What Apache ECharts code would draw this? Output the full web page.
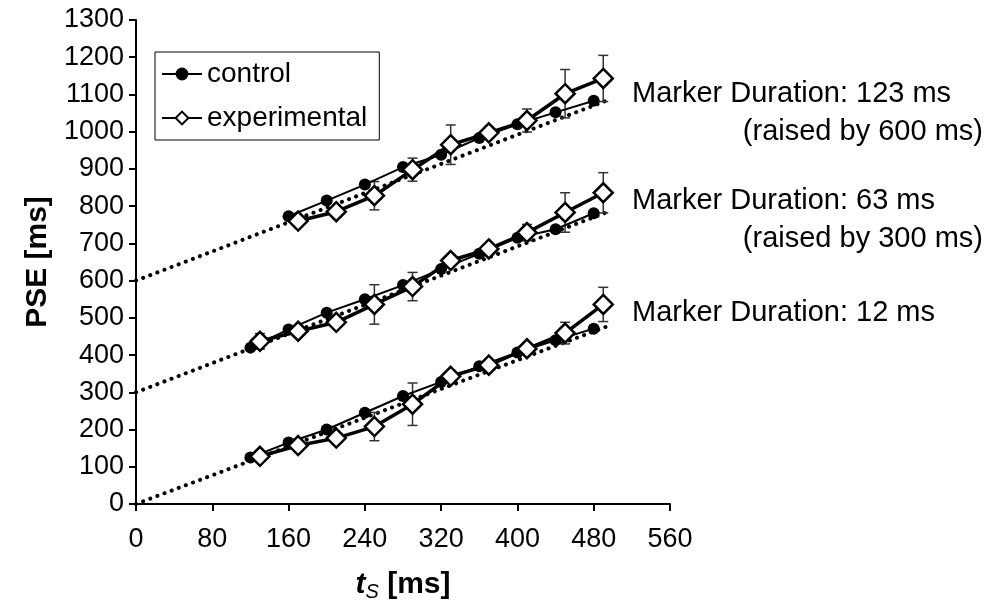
<!DOCTYPE html>
<html>
<head>
<meta charset="utf-8">
<script src="https://cdn.jsdelivr.net/npm/echarts@6/dist/echarts.min.js"></script>
<style>html,body{margin:0;padding:0;background:#fff}#c{width:992px;height:607px}</style>
</head>
<body>
<div id="c"></div>
<script>
// x positions (t_S in ms)
const ctrlX = [120, 160, 200, 240, 280, 320, 360, 400, 440, 480];
const expX = [130, 170, 210, 250, 290, 330, 370, 410, 450, 490];
const ctrlX123 = [160, 200, 240, 280, 320, 360, 400, 440, 480];
const expX123 = [170, 210, 250, 290, 330, 370, 410, 450, 490];

// Marker Duration 12 ms
const ctrl12 = [125, 165, 200, 245, 290, 328, 370, 407, 440, 471];
const exp12 = [128, 157, 177, 208, 268, 343, 373, 417, 459, 536];
const err12 = [8, 6, 6, 38, 57, 10, 6, 6, 29, 46];
// Marker Duration 63 ms (raised by 300 ms)
const ctrl63 = [420, 469, 514, 550, 588, 631, 672, 715, 738, 781];
const exp63 = [437, 464, 488, 536, 584, 654, 685, 729, 783, 836];
const err63 = [21, 6, 6, 53, 38, 6, 6, 22, 53, 54];
// Marker Duration 123 ms (raised by 600 ms)
const ctrl123 = [773, 815, 858, 905, 938, 983, 1020, 1052, 1083];
const exp123 = [760, 785, 828, 898, 965, 997, 1030, 1102, 1143];
const err123 = [6, 6, 38, 31, 53, 6, 31, 65, 62];

// dotted reference lines (endpoints)
const refLow = [[0, 0], [495, 478]];
const refMid = [[0, 300], [495, 785]];
const refTop = [[0, 600], [495, 1085]];

// tick labels
const xTicks = [0, 80, 160, 240, 320, 400, 480, 560];
const yTicks = [0, 100, 200, 300, 400, 500, 600, 700, 800, 900, 1000, 1100, 1200, 1300];

const FONT = 'Liberation Sans';
const zip = (xs, ys) => xs.map((x, i) => [x, ys[i]]);
const errData = (xs, ys, es) => xs.map((x, i) => [x, ys[i] - es[i], ys[i] + es[i]]);

function ctrlSeries(xs, ys) {
  return {
    name: 'control', type: 'line', data: zip(xs, ys), z: 3,
    symbol: 'circle', symbolSize: 12,
    itemStyle: { color: '#000' },
    lineStyle: { color: '#000', width: 2 }
  };
}
function expSeries(xs, ys) {
  return {
    name: 'experimental', type: 'line', data: zip(xs, ys), z: 4,
    symbol: 'diamond', symbolSize: 19,
    itemStyle: { color: '#fff', borderColor: '#000', borderWidth: 2.5 },
    lineStyle: { color: '#000', width: 3.5 }
  };
}
function refSeries(name, pts) {
  return {
    name: name, type: 'line', data: pts, z: 1, symbol: 'none', silent: true,
    lineStyle: { color: '#000', width: 4, type: [0.1, 7.5], cap: 'round' }
  };
}
function errSeries(xs, ys, es) {
  return {
    name: 'err', type: 'custom', z: 2, data: errData(xs, ys, es),
    renderItem: function (params, api) {
      const x = api.value(0);
      const p1 = api.coord([x, api.value(2)]);
      const p2 = api.coord([x, api.value(1)]);
      const w = 5;
      const st = { stroke: '#333', lineWidth: 1.5 };
      return {
        type: 'group', children: [
          { type: 'line', shape: { x1: p1[0], y1: p1[1], x2: p2[0], y2: p2[1] }, style: st },
          { type: 'line', shape: { x1: p1[0] - w, y1: p1[1], x2: p1[0] + w, y2: p1[1] }, style: st },
          { type: 'line', shape: { x1: p2[0] - w, y1: p2[1], x2: p2[0] + w, y2: p2[1] }, style: st }
        ]
      };
    }
  };
}

const chart = echarts.init(document.getElementById('c'), null, { renderer: 'canvas' });
chart.setOption({
  animation: false,
  backgroundColor: '#fff',
  textStyle: { fontFamily: FONT },
  grid: { left: 136, right: 322, top: 20, bottom: 99, containLabel: false },
  legend: {
    data: ['control', 'experimental'],
    orient: 'vertical', left: 155, top: 52,
    borderColor: '#000', borderWidth: 1, padding: [8, 12, 8, 6],
    itemWidth: 40, itemHeight: 16, itemGap: 16,
    textStyle: { fontFamily: FONT, fontSize: 28, color: '#000' }
  },
  xAxis: {
    type: 'value', min: xTicks[0], max: xTicks[xTicks.length - 1], interval: 80,
    axisLine: { onZero: false, lineStyle: { color: '#000', width: 2 } },
    axisTick: { show: true, inside: false, length: 7, lineStyle: { color: '#000', width: 2 } },
    axisLabel: { color: '#000', fontSize: 27, fontFamily: FONT, margin: 22, formatter: v => String(v) },
    splitLine: { show: false },
    name: '{t|t}{s|S}{r| [ms]}', nameLocation: 'middle', nameGap: 64,
    nameTextStyle: {
      rich: {
        t: { fontSize: 30, fontWeight: 'bold', fontStyle: 'italic', fontFamily: FONT, color: '#000' },
        s: { fontSize: 20, fontStyle: 'italic', fontFamily: FONT, color: '#000', padding: [14, 0, 0, 0] },
        r: { fontSize: 30, fontWeight: 'bold', fontFamily: FONT, color: '#000' }
      }
    }
  },
  yAxis: {
    type: 'value', min: yTicks[0], max: yTicks[yTicks.length - 1], interval: 100,
    axisLine: { show: true, lineStyle: { color: '#000', width: 2 } },
    axisTick: { show: true, inside: false, length: 7, lineStyle: { color: '#000', width: 2 } },
    axisLabel: { color: '#000', fontSize: 27, fontFamily: FONT, margin: 12, formatter: v => String(v) },
    splitLine: { show: false },
    name: 'PSE [ms]', nameLocation: 'middle', nameGap: 83,
    nameTextStyle: { fontSize: 30, fontWeight: 'bold', fontFamily: FONT, color: '#000' }
  },
  graphic: [
    { type: 'text', left: 632, top: 79, style: { text: 'Marker Duration: 123 ms', font: '29px "Liberation Sans"', fill: '#000' } },
    { type: 'text', right: 9, top: 117, style: { text: '(raised by 600 ms)', font: '29px "Liberation Sans"', fill: '#000' } },
    { type: 'text', left: 632, top: 186, style: { text: 'Marker Duration: 63 ms', font: '29px "Liberation Sans"', fill: '#000' } },
    { type: 'text', right: 9, top: 224, style: { text: '(raised by 300 ms)', font: '29px "Liberation Sans"', fill: '#000' } },
    { type: 'text', left: 632, top: 298, style: { text: 'Marker Duration: 12 ms', font: '29px "Liberation Sans"', fill: '#000' } }
  ],
  series: [
    refSeries('ref0', refLow), refSeries('ref300', refMid), refSeries('ref600', refTop),
    errSeries(expX, exp12, err12), errSeries(expX, exp63, err63), errSeries(expX123, exp123, err123),
    ctrlSeries(ctrlX, ctrl12), ctrlSeries(ctrlX, ctrl63), ctrlSeries(ctrlX123, ctrl123),
    expSeries(expX, exp12), expSeries(expX, exp63), expSeries(expX123, exp123)
  ]
});
</script>
</body>
</html>
